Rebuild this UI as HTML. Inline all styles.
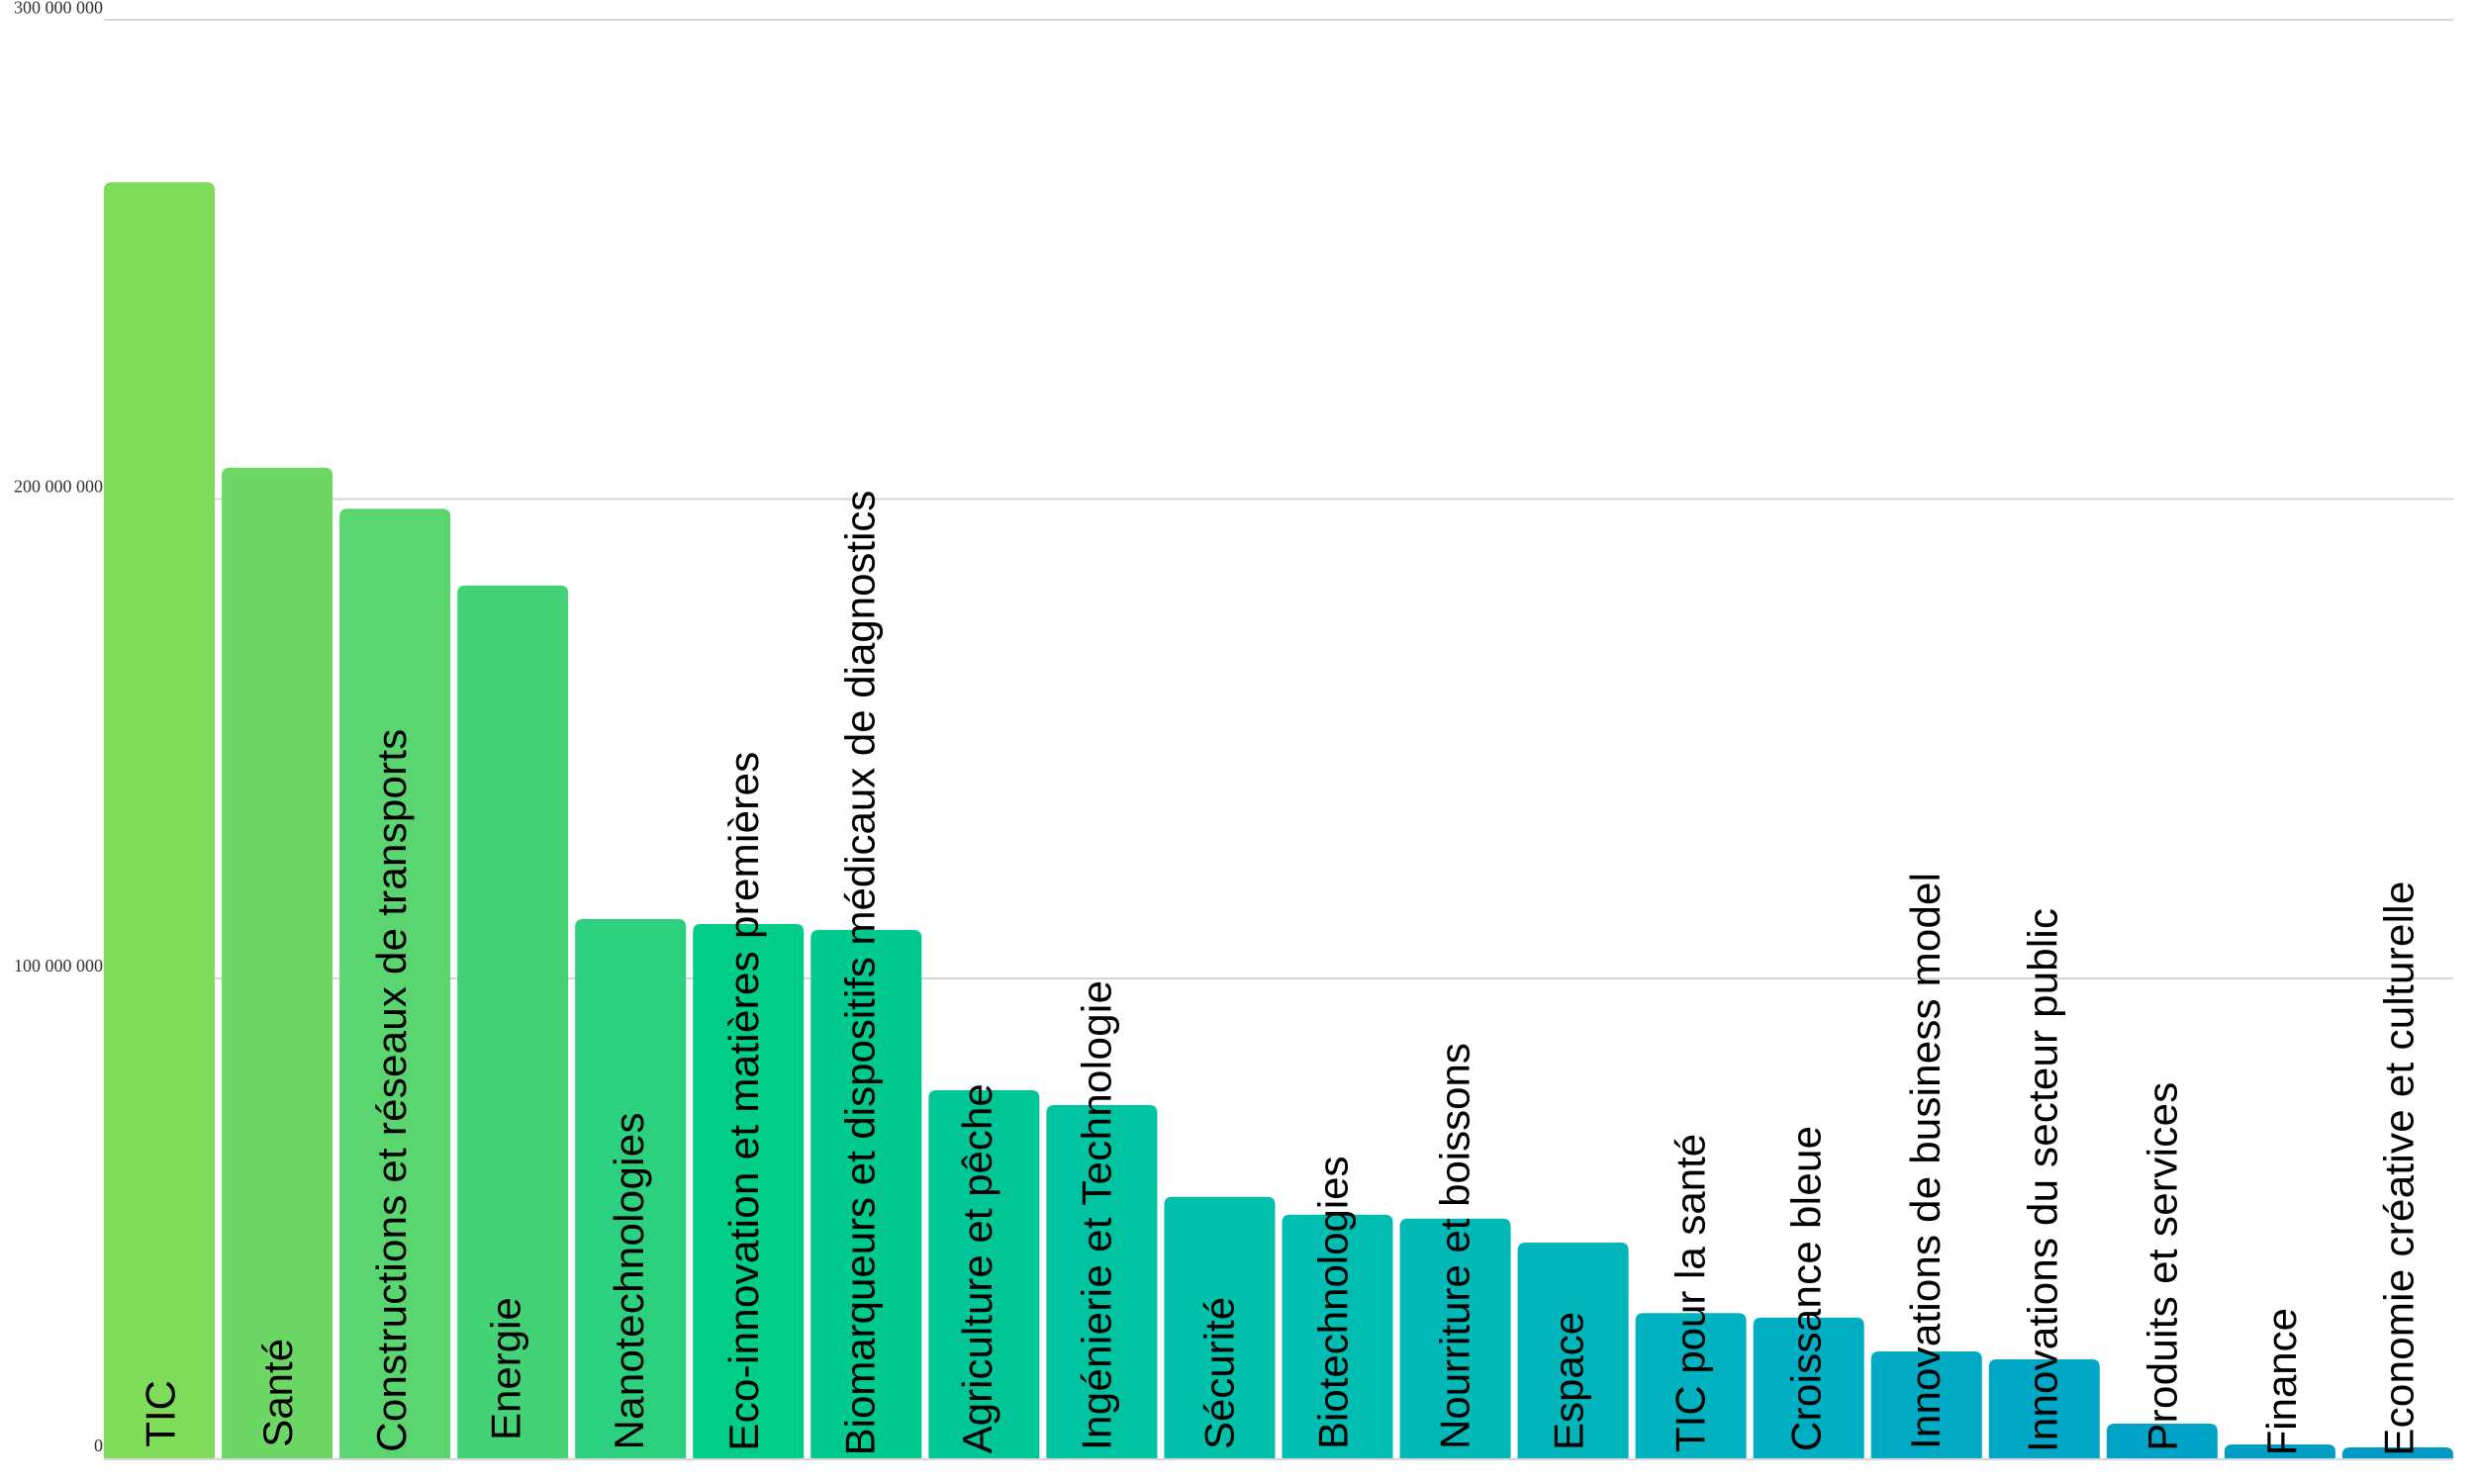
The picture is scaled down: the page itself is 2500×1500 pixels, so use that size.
<!DOCTYPE html>
<html><head><meta charset="utf-8"><style>
html,body{margin:0;padding:0;background:#fff;}
svg{display:block;}
.l{font-family:"Liberation Sans",Arial,sans-serif;font-size:42px;fill:#000;}
.y{font-family:"Liberation Serif","Times New Roman",serif;font-size:18px;fill:#333;text-anchor:end;}
</style></head><body>
<svg width="2500" height="1500" viewBox="0 0 2500 1500" xmlns="http://www.w3.org/2000/svg">
<rect width="2500" height="1500" fill="#fff"/>
<g stroke="#d6d6d6" stroke-width="2">
<line x1="105" y1="20" x2="2479" y2="20"/>
<line x1="105" y1="504.5" x2="2479" y2="504.5"/>
<line x1="105" y1="989" x2="2479" y2="989"/>
</g>
<text class="y" x="104" y="13.5">300 000 000</text>
<text class="y" x="104" y="497.5">200 000 000</text>
<text class="y" x="104" y="982">100 000 000</text>
<text class="y" x="104" y="1467">0</text>
<g>
<path fill="#7fdb5a" d="M105,1474 V192.2 Q105,184.2 113,184.2 H209 Q217,184.2 217,192.2 V1474 Z"/>
<path fill="#6dd766" d="M224.05,1474 V480.7 Q224.05,472.7 232.05,472.7 H328.05 Q336.05,472.7 336.05,480.7 V1474 Z"/>
<path fill="#5ad56f" d="M343.1,1474 V522.3 Q343.1,514.3 351.1,514.3 H447.1 Q455.1,514.3 455.1,522.3 V1474 Z"/>
<path fill="#44d277" d="M462.15,1474 V599.7 Q462.15,591.7 470.15,591.7 H566.15 Q574.15,591.7 574.15,599.7 V1474 Z"/>
<path fill="#2dd07e" d="M581.2,1474 V937 Q581.2,929 589.2,929 H685.2 Q693.2,929 693.2,937 V1474 Z"/>
<path fill="#00cd87" d="M700.25,1474 V942 Q700.25,934 708.25,934 H804.25 Q812.25,934 812.25,942 V1474 Z"/>
<path fill="#00c98e" d="M819.3,1474 V948 Q819.3,940 827.3,940 H923.3 Q931.3,940 931.3,948 V1474 Z"/>
<path fill="#00c697" d="M938.35,1474 V1110 Q938.35,1102 946.35,1102 H1042.35 Q1050.35,1102 1050.35,1110 V1474 Z"/>
<path fill="#00c3a1" d="M1057.4,1474 V1125 Q1057.4,1117 1065.4,1117 H1161.4 Q1169.4,1117 1169.4,1125 V1474 Z"/>
<path fill="#00c0aa" d="M1176.45,1474 V1217.7 Q1176.45,1209.7 1184.45,1209.7 H1280.45 Q1288.45,1209.7 1288.45,1217.7 V1474 Z"/>
<path fill="#00bdb2" d="M1295.5,1474 V1235.7 Q1295.5,1227.7 1303.5,1227.7 H1399.5 Q1407.5,1227.7 1407.5,1235.7 V1474 Z"/>
<path fill="#00b9b7" d="M1414.55,1474 V1239.7 Q1414.55,1231.7 1422.55,1231.7 H1518.55 Q1526.55,1231.7 1526.55,1239.7 V1474 Z"/>
<path fill="#00b6bb" d="M1533.6,1474 V1264 Q1533.6,1256 1541.6,1256 H1637.6 Q1645.6,1256 1645.6,1264 V1474 Z"/>
<path fill="#00b2bf" d="M1652.65,1474 V1335.3 Q1652.65,1327.3 1660.65,1327.3 H1756.65 Q1764.65,1327.3 1764.65,1335.3 V1474 Z"/>
<path fill="#00aec3" d="M1771.7,1474 V1339.7 Q1771.7,1331.7 1779.7,1331.7 H1875.7 Q1883.7,1331.7 1883.7,1339.7 V1474 Z"/>
<path fill="#00aac5" d="M1890.75,1474 V1374 Q1890.75,1366 1898.75,1366 H1994.75 Q2002.75,1366 2002.75,1374 V1474 Z"/>
<path fill="#00a6c6" d="M2009.8,1474 V1382 Q2009.8,1374 2017.8,1374 H2113.8 Q2121.8,1374 2121.8,1382 V1474 Z"/>
<path fill="#00a2c6" d="M2128.85,1474 V1447 Q2128.85,1439 2136.85,1439 H2232.85 Q2240.85,1439 2240.85,1447 V1474 Z"/>
<path fill="#009ec5" d="M2247.9,1474 V1467 Q2247.9,1460 2255.9,1460 H2351.9 Q2359.9,1460 2359.9,1467 V1474 Z"/>
<path fill="#009ac4" d="M2366.95,1474 V1470 Q2366.95,1463 2374.95,1463 H2470.95 Q2478.95,1463 2478.95,1470 V1474 Z"/>
</g>
<line x1="105" y1="1475" x2="2479" y2="1475" stroke="#d6d6d6" stroke-width="2"/>
<g class="l">
<text class="l" transform="translate(176.7,1462.7) rotate(-90)">TIC</text>
<text class="l" transform="translate(295,1462.7) rotate(-90)">Santé</text>
<text class="l" transform="translate(410,1467.7) rotate(-90)" textLength="731" lengthAdjust="spacing">Constructions et réseaux de transports</text>
<text class="l" transform="translate(525.3,1456) rotate(-90)">Energie</text>
<text class="l" transform="translate(650,1465.5) rotate(-90)" textLength="341" lengthAdjust="spacing">Nanotechnologies</text>
<text class="l" transform="translate(766,1466.7) rotate(-90)" textLength="707" lengthAdjust="spacing">Eco-innovation et matières premières</text>
<text class="l" transform="translate(883.3,1471.4) rotate(-90)">Biomarqueurs et dispositifs médicaux de diagnostics</text>
<text class="l" transform="translate(1002,1469.3) rotate(-90)" textLength="374" lengthAdjust="spacing">Agriculture et pêche</text>
<text class="l" transform="translate(1122.5,1466) rotate(-90)" textLength="475" lengthAdjust="spacing">Ingénierie et Technologie</text>
<text class="l" transform="translate(1246.5,1465) rotate(-90)">Sécurité</text>
<text class="l" transform="translate(1361.5,1465) rotate(-90)">Biotechnologies</text>
<text class="l" transform="translate(1484.5,1465) rotate(-90)">Nourriture et boissons</text>
<text class="l" transform="translate(1599.6,1466) rotate(-90)">Espace</text>
<text class="l" transform="translate(1722.6,1468) rotate(-90)">TIC pour la santé</text>
<text class="l" transform="translate(1839.3,1467) rotate(-90)" textLength="329" lengthAdjust="spacing">Croissance bleue</text>
<text class="l" transform="translate(1960,1465) rotate(-90)" textLength="583" lengthAdjust="spacing">Innovations de business model</text>
<text class="l" transform="translate(2078.3,1468) rotate(-90)" textLength="550" lengthAdjust="spacing">Innovations du secteur public</text>
<text class="l" transform="translate(2199.3,1466.7) rotate(-90)" textLength="373" lengthAdjust="spacing">Produits et services</text>
<text class="l" transform="translate(2320,1471.4) rotate(-90)">Finance</text>
<text class="l" transform="translate(2438.3,1471.7) rotate(-90)" textLength="581" lengthAdjust="spacing">Economie créative et culturelle</text>
</g>
</svg>
</body></html>
